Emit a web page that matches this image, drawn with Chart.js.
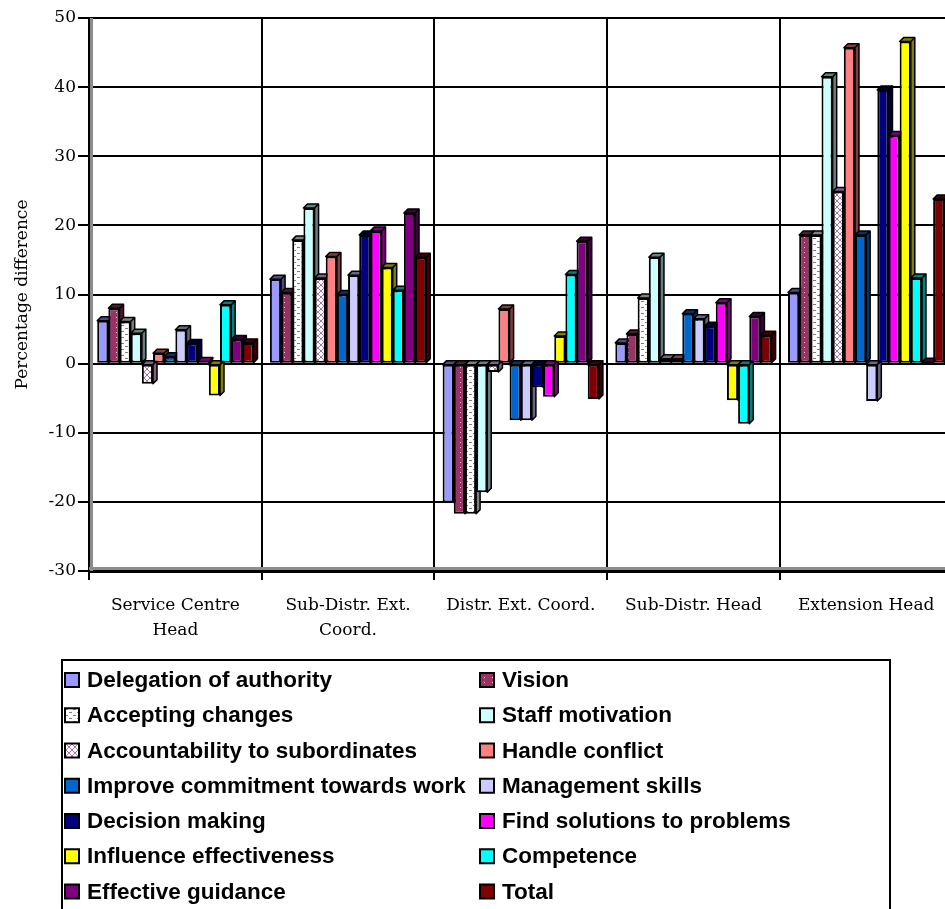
<!DOCTYPE html>
<html><head><meta charset="utf-8">
<script src="https://cdn.jsdelivr.net/npm/chart.js@4.4.1/dist/chart.umd.min.js"></script>
<style>html,body{margin:0;padding:0;overflow:hidden;background:#fff}</style>
</head><body>
<canvas id="c" width="960" height="909"></canvas>
<script>
// ---------- DATA ----------
const categories = [["Service Centre", "Head"], ["Sub-Distr. Ext.", "Coord."], "Distr. Ext. Coord.", "Sub-Distr. Head", "Extension Head"];
const seriesNames = ["Delegation of authority", "Vision", "Accepting changes", "Staff motivation",
  "Accountability to subordinates", "Handle conflict", "Improve commitment towards work", "Management skills",
  "Decision making", "Find solutions to problems", "Influence effectiveness", "Competence",
  "Effective guidance", "Total"];
const delegation     = [6.2, 12.2, -20.1, 3.0, 10.3];
const vision         = [8.0, 10.3, -21.7, 4.3, 18.6];
const accepting      = [6.1, 17.9, -21.7, 9.5, 18.6];
const motivation     = [4.4, 22.5, -18.6, 15.4, 41.5];
const accountability = [-2.9, 12.4, -1.2, 0.7, 24.9];
const conflict       = [1.5, 15.5, 7.9, 0.7, 45.7];
const commitment     = [1.0, 10.0, -8.2, 7.2, 18.6];
const management     = [4.9, 12.8, -8.2, 6.5, -5.4];
const decision       = [2.9, 18.6, -3.4, 5.4, 39.6];
const solutions      = [0.3, 19.2, -4.8, 8.8, 33.0];
const influence      = [-4.6, 13.9, 4.0, -5.3, 46.6];
const competence     = [8.5, 10.6, 12.9, -8.7, 12.4];
const guidance       = [3.5, 21.8, 17.7, 6.8, 0.2];
const total          = [3.0, 15.4, -5.1, 4.1, 23.8];
const seriesValues = [delegation, vision, accepting, motivation, accountability, conflict, commitment,
  management, decision, solutions, influence, competence, guidance, total];
const yMin = -30, yMax = 50, yStep = 10;

// ---------- STYLES ----------
function pattern(kind) {
  const t = document.createElement('canvas');
  const g = t.getContext('2d');
  if (kind === 'dots') {
    t.width = 8; t.height = 5;
    g.fillStyle = '#993366'; g.fillRect(0, 0, 8, 5);
    g.fillStyle = '#f0c8dc'; g.fillRect(4, 2, 1, 1);
  } else if (kind === 'dashes') {
    t.width = 8; t.height = 6;
    g.fillStyle = '#ffffff'; g.fillRect(0, 0, 8, 6);
    g.fillStyle = '#7f7f7f'; g.fillRect(1, 1, 3, 1); g.fillRect(5, 4, 3, 1);
  } else {
    t.width = 6; t.height = 6;
    g.fillStyle = '#ffffff'; g.fillRect(0, 0, 6, 6);
    g.fillStyle = '#b070a8';
    for (let i = 0; i < 6; i++) { g.fillRect(i, i, 1, 1); g.fillRect(5 - i, i, 1, 1); }
  }
  return document.createElement('canvas').getContext('2d').createPattern(t, 'repeat');
}
const fills = ['#9999ff', pattern('dots'), pattern('dashes'), '#ccffff', pattern('cross'), '#ff8080', '#0066cc',
  '#ccccff', '#000080', '#ff00ff', '#ffff00', '#00ffff', '#800080', '#800000'];
const sides = ['#4d4d80', '#4d1a33', '#808080', '#668080', '#806080', '#804040', '#003366',
  '#666680', '#000040', '#800080', '#808000', '#008080', '#400040', '#400000'];
const depth = 4;
const serif = '"DejaVu Serif", serif';

const bar3d = {
  id: 'bar3d',
  beforeDatasetsDraw(chart) {
    const ctx = chart.ctx, ca = chart.chartArea;
    ctx.save();
    ctx.fillStyle = '#8c8c8c';
    ctx.fillRect(ca.left + 1, ca.top, 3, ca.bottom - ca.top);
    ctx.fillRect(ca.left, ca.bottom - 4, ca.right - ca.left, 3);
    const n = chart.data.labels.length;
    for (let c = 0; c < n; c++) {
      chart.data.datasets.forEach((ds, i) => {
        const el = chart.getDatasetMeta(i).data[c];
        const p = el.getProps(['x', 'y', 'base', 'width'], true);
        const l = p.x - p.width / 2, r = p.x + p.width / 2;
        const t = Math.min(p.y, p.base), b = Math.max(p.y, p.base);
        ctx.fillStyle = sides[i];
        ctx.strokeStyle = '#000'; ctx.lineWidth = 1.5; ctx.lineJoin = 'round';
        ctx.beginPath();
        ctx.moveTo(l, t); ctx.lineTo(l + depth, t - depth); ctx.lineTo(r + depth, t - depth);
        ctx.lineTo(r + depth, b - depth); ctx.lineTo(r, b); ctx.lineTo(r, t); ctx.closePath();
        ctx.fill(); ctx.stroke();
        ctx.beginPath(); ctx.moveTo(r, t); ctx.lineTo(r + depth, t - depth); ctx.stroke();
      });
    }
    ctx.restore();
  }
};

const legendBox = {
  id: 'legendBox',
  afterDraw(chart) {
    const ctx = chart.ctx;
    ctx.save();
    ctx.lineWidth = 2; ctx.strokeStyle = '#000';
    ctx.strokeRect(62, 660, 828, 320);
    ctx.font = 'bold 22.5px "Liberation Sans", Arial, sans-serif';
    ctx.textBaseline = 'middle';
    chart.data.datasets.forEach((ds, i) => {
      const col = i % 2, row = Math.floor(i / 2);
      const mx = col ? 480 : 65, cy = 680 + row * 35.25;
      ctx.fillStyle = ds.backgroundColor; ctx.fillRect(mx, cy - 7, 14, 14);
      ctx.lineWidth = 2; ctx.strokeRect(mx, cy - 7, 14, 14);
      ctx.fillStyle = '#000'; ctx.fillText(ds.label, mx + 22, cy + 1);
    });
    ctx.restore();
  }
};

new Chart(document.getElementById('c'), {
  type: 'bar',
  data: {
    labels: categories,
    datasets: seriesNames.map((name, i) => ({
      label: name,
      data: seriesValues[i],
      backgroundColor: fills[i],
      borderColor: '#000',
      borderWidth: 2,
      borderSkipped: false,
      categoryPercentage: 0.905,
      barPercentage: 1.0
    }))
  },
  options: {
    responsive: false,
    animation: false,
    devicePixelRatio: 1,
    layout: { padding: { top: 18, right: 7.5, left: 0, bottom: 0 } },
    plugins: { legend: { display: false }, tooltip: { enabled: false } },
    scales: {
      x: {
        offset: true,
        grid: { offset: true, color: '#000', lineWidth: 2, tickLength: 9, tickWidth: 2, tickColor: '#000' },
        border: { color: '#000', width: 3 },
        ticks: { color: '#000', font: { family: serif, size: 17, lineHeight: 1.42 }, padding: 14, maxRotation: 0, autoSkip: false },
        afterFit(s) { s.height = 909 - 571; }
      },
      y: {
        min: yMin, max: yMax,
        grid: { color: '#000', lineWidth: 2, tickLength: 11, tickWidth: 2, tickColor: '#000' },
        border: { color: '#000', width: 2 },
        ticks: { stepSize: yStep, color: '#000', font: { family: serif, size: 17 }, padding: 2 },
        title: { display: true, text: 'Percentage difference', color: '#000', font: { family: serif, size: 17 }, padding: { top: 12, bottom: 0 } },
        afterFit(s) { s.width = 89; }
      }
    }
  },
  plugins: [bar3d, legendBox]
});
</script>
</body></html>
